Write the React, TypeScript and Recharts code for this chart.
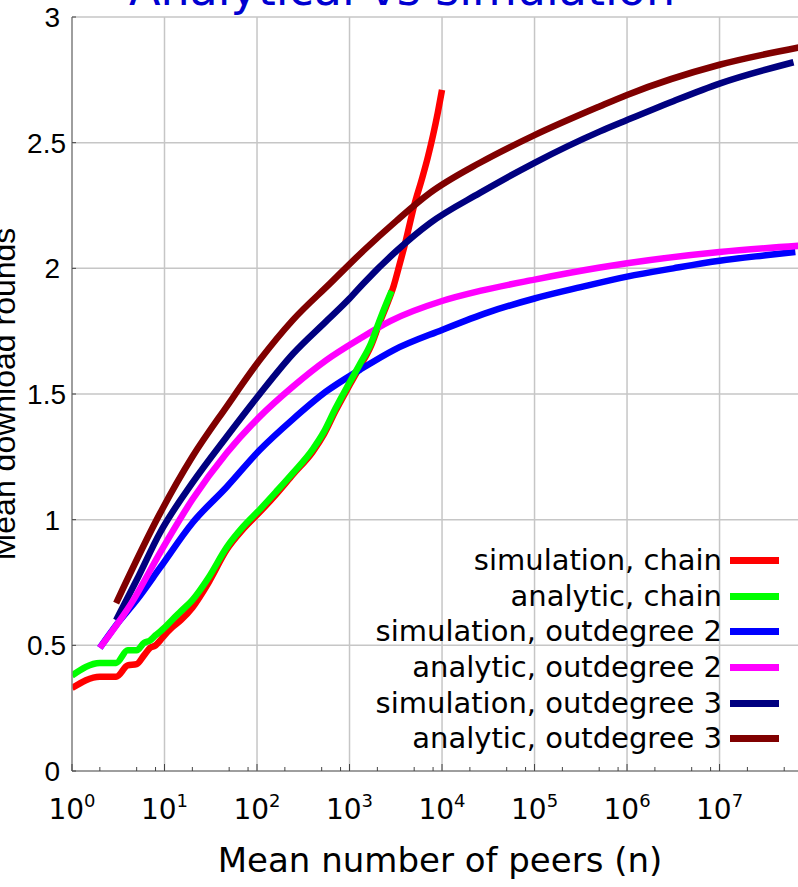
import React from 'react';
import { CartesianGrid, Label, Legend, Line, LineChart, XAxis, YAxis } from 'recharts';

if (typeof document !== 'undefined') {
  document.body.style.margin = '0';
  document.body.style.overflow = 'hidden';
}

// [mean number of peers n, mean download rounds]
const SIM_CHAIN: [number, number][] = [
  [1, 0.33], [2, 0.375], [3, 0.375], [4, 0.42], [5, 0.425], [6, 0.46], [7, 0.49], [8, 0.5],
  [9, 0.52], [10, 0.54], [12, 0.57], [15, 0.6], [20, 0.65], [30, 0.75], [47, 0.88],
  [70, 0.96], [107, 1.03], [160, 1.1], [245, 1.18], [400, 1.27], [530, 1.34], [700, 1.43],
  [1000, 1.535], [1300, 1.61], [1700, 1.69], [2100, 1.78], [2500, 1.85], [3000, 1.93],
  [3500, 2.02], [4000, 2.1], [4500, 2.18], [5000, 2.25], [6000, 2.35], [7000, 2.44],
  [8000, 2.53], [9000, 2.62], [10000, 2.71],
];
const ANA_CHAIN: [number, number][] = [
  [1, 0.38], [2, 0.43], [3, 0.43], [4, 0.48], [5, 0.48], [6, 0.51], [7, 0.52], [8, 0.54],
  [9, 0.555], [10, 0.57], [12, 0.6], [15, 0.635], [20, 0.68], [30, 0.77], [47, 0.89],
  [70, 0.97], [107, 1.04], [160, 1.11], [245, 1.186], [400, 1.28], [530, 1.35], [700, 1.44],
  [1000, 1.545], [1300, 1.62], [1700, 1.7], [2100, 1.79], [2500, 1.86], [2850, 1.91],
];
const SIM_OUT2: [number, number][] = [
  [2, 0.49], [3, 0.58], [5, 0.68], [9, 0.81], [20, 0.987], [47, 1.13], [107, 1.277], [245, 1.4],
  [560, 1.51], [1290, 1.596], [3000, 1.675], [1e4, 1.755], [3.16e4, 1.825], [1e5, 1.88],
  [3.16e5, 1.925], [1e6, 1.967], [3.16e6, 2.0], [1e7, 2.03], [3.16e7, 2.052], [6.6e7, 2.065],
];
const ANA_OUT2: [number, number][] = [
  [2, 0.49], [4.6, 0.68], [9, 0.87], [20, 1.08], [47, 1.265], [107, 1.41], [245, 1.53],
  [562, 1.635], [1290, 1.72], [2750, 1.79], [1e4, 1.87], [2.57e4, 1.91], [1e5, 1.955],
  [5.1e5, 2.003], [1e6, 2.02], [1e7, 2.065], [7.5e7, 2.09],
];
const SIM_OUT3: [number, number][] = [
  [3, 0.6], [5, 0.76], [9, 0.95], [20, 1.146], [47, 1.33], [107, 1.5], [245, 1.66], [562, 1.79],
  [1000, 1.88], [1412, 1.94], [3236, 2.07], [7413, 2.18], [2.57e4, 2.3], [1e5, 2.42],
  [5.1e5, 2.545], [1e6, 2.59], [3.16e6, 2.665], [1e7, 2.735], [6.3e7, 2.82],
];
const ANA_OUT3: [number, number][] = [
  [3, 0.668], [9, 1.027], [20, 1.25], [47, 1.45], [107, 1.635], [245, 1.795], [617, 1.94],
  [1412, 2.07], [3236, 2.19], [7413, 2.3], [2.57e4, 2.42], [1e5, 2.53], [5.1e5, 2.645],
  [1e6, 2.69], [1e7, 2.81], [7.5e7, 2.88],
];

const X_DECADES = [1, 10, 100, 1e3, 1e4, 1e5, 1e6, 1e7];
const X_MINOR = X_DECADES.flatMap((d) => [2 * d, 5 * d, 8 * d]).filter((v) => v < 7.5e7);
const X_ALL = [...X_DECADES, ...X_MINOR].sort((a, b) => a - b);
const X_DOMAIN: [number, number] = [1, 7.5e7];
const Y_TICKS = [0, 0.5, 1, 1.5, 2, 2.5, 3];

const SERIES = [
  { key: 'simChain', name: 'simulation, chain', color: '#ff0000', data: SIM_CHAIN },
  { key: 'anaChain', name: 'analytic, chain', color: '#00ff00', data: ANA_CHAIN },
  { key: 'simOut2', name: 'simulation, outdegree 2', color: '#0000ff', data: SIM_OUT2 },
  { key: 'anaOut2', name: 'analytic, outdegree 2', color: '#ff00ff', data: ANA_OUT2 },
  { key: 'simOut3', name: 'simulation, outdegree 3', color: '#000080', data: SIM_OUT3 },
  { key: 'anaOut3', name: 'analytic, outdegree 3', color: '#800000', data: ANA_OUT3 },
];
// stacking order seen in the picture (red underneath, green on top)
const DRAW_ORDER = ['simChain', 'simOut3', 'simOut2', 'anaOut2', 'anaOut3', 'anaChain'];

const COMIC = '"DejaVu Sans", sans-serif';
const ARIAL = '"Liberation Sans", Arial, sans-serif';
const AXIS_COL = '#8c8c8c';
const TICK_COL = '#444';

const isDecade = (v: number) => Math.abs(Math.log10(v) - Math.round(Math.log10(v))) < 1e-9;

function BottomTick({ x, y, payload }: any) {
  const v = payload.value as number;
  const major = isDecade(v);
  return (
    <g>
      <line x1={x} x2={x} y1={y} y2={y - (major ? 7 : 4)} stroke={TICK_COL} />
      {major && (
        <text x={x} y={y + 48} textAnchor="middle" fontFamily={COMIC} fontSize={28} fill="#000">
          <tspan>10</tspan>
          <tspan dy={-12} fontSize={18}>{Math.round(Math.log10(v))}</tspan>
        </text>
      )}
    </g>
  );
}

function TopTick({ x, y, payload }: any) {
  const major = isDecade(payload.value);
  return <line x1={x} x2={x} y1={y} y2={y + (major ? 8 : 5)} stroke={TICK_COL} />;
}

function LeftTick({ x, y, payload }: any) {
  const v = payload.value as number;
  const whole = Number.isInteger(v);
  return (
    <g>
      <line x1={x} x2={x + 4} y1={y} y2={y} stroke={TICK_COL} />
      <text x={x - (whole ? 12 : 6)} y={y} dy={10} textAnchor="end" fontFamily={ARIAL} fontSize={28} fill="#000">
        {String(v)}
      </text>
    </g>
  );
}

function RightTick({ x, y }: any) {
  return <line x1={x} x2={x - 4} y1={y} y2={y} stroke={TICK_COL} />;
}

function LegendBox() {
  return (
    <div style={{ fontFamily: COMIC, fontSize: 29, color: '#000' }}>
      {SERIES.map((s) => (
        <div
          key={s.key}
          style={{ display: 'flex', justifyContent: 'flex-end', alignItems: 'center', height: 35.6 }}
        >
          <span style={{ whiteSpace: 'nowrap', lineHeight: 1 }}>{s.name}</span>
          <span style={{ display: 'inline-block', width: 49, height: 7, background: s.color, marginLeft: 8 }} />
        </div>
      ))}
    </div>
  );
}

function Titles() {
  return (
    <g>
      <text x={402} y={5} textAnchor="middle" fontFamily={COMIC} fontSize={46} fill="#0000d0">
        Analytical vs simulation
      </text>
      <text x={440} y={872} textAnchor="middle" fontFamily={COMIC} fontSize={34} fill="#000">
        Mean number of peers (n)
      </text>
    </g>
  );
}

export default function App() {
  const byKey = Object.fromEntries(SERIES.map((s) => [s.key, s]));
  return (
    <div style={{ width: 798, height: 887, overflow: 'hidden', background: '#fff', position: 'relative' }}>
      <LineChart width={820} height={887} margin={{ top: 17, right: 19.5, bottom: 0, left: 0 }}>
        <XAxis xAxisId="grid" dataKey="n" type="number" scale="log" domain={X_DOMAIN} ticks={X_DECADES} allowDataOverflow hide />
        <CartesianGrid xAxisId="grid" stroke="#c6c6c6" strokeWidth={1.5} />
        <XAxis
          dataKey="n"
          type="number"
          scale="log"
          domain={X_DOMAIN}
          allowDataOverflow
          ticks={X_ALL}
          interval={0}
          height={116}
          tickSize={0}
          tickMargin={0}
          tickLine={false}
          tick={<BottomTick />}
          axisLine={{ stroke: AXIS_COL, strokeWidth: 1.5 }}
        >
          <Label content={() => <Titles />} />
        </XAxis>
        <XAxis
          xAxisId="top"
          orientation="top"
          dataKey="n"
          type="number"
          scale="log"
          domain={X_DOMAIN}
          allowDataOverflow
          ticks={X_ALL}
          interval={0}
          height={0}
          tickSize={0}
          tickMargin={0}
          tickLine={false}
          tick={<TopTick />}
          axisLine={{ stroke: AXIS_COL, strokeWidth: 1.5 }}
        />
        <YAxis
          type="number"
          domain={[0, 3]}
          ticks={Y_TICKS}
          interval={0}
          width={72}
          tickSize={0}
          tickMargin={0}
          tickLine={false}
          tick={<LeftTick />}
          axisLine={{ stroke: AXIS_COL, strokeWidth: 1.5 }}
        >
          <Label
            content={() => (
              <text
                transform="rotate(-90)"
                x={-394}
                y={15}
                textAnchor="middle"
                fontFamily={ARIAL}
                fontSize={32}
                fill="#000"
              >
                Mean download rounds
              </text>
            )}
          />
        </YAxis>
        <YAxis
          yAxisId="right"
          orientation="right"
          type="number"
          domain={[0, 3]}
          ticks={Y_TICKS}
          interval={0}
          width={0}
          tickSize={0}
          tickMargin={0}
          tickLine={false}
          tick={<RightTick />}
          axisLine={{ stroke: AXIS_COL, strokeWidth: 1.5 }}
        />
        <Legend
          layout="horizontal"
          verticalAlign="middle"
          align="center"
          content={() => <LegendBox />}
          wrapperStyle={{ position: 'absolute', left: 300, top: 543, width: 479, height: 214 }}
        />
        {DRAW_ORDER.map((k) => {
          const s = byKey[k];
          return (
            <Line
              key={s.key}
              name={s.name}
              data={s.data.map(([n, y]) => ({ n, y }))}
              dataKey="y"
              type="monotone"
              stroke={s.color}
              strokeWidth={6.5}
              dot={false}
              activeDot={false}
              isAnimationActive={false}
            />
          );
        })}
      </LineChart>
    </div>
  );
}
